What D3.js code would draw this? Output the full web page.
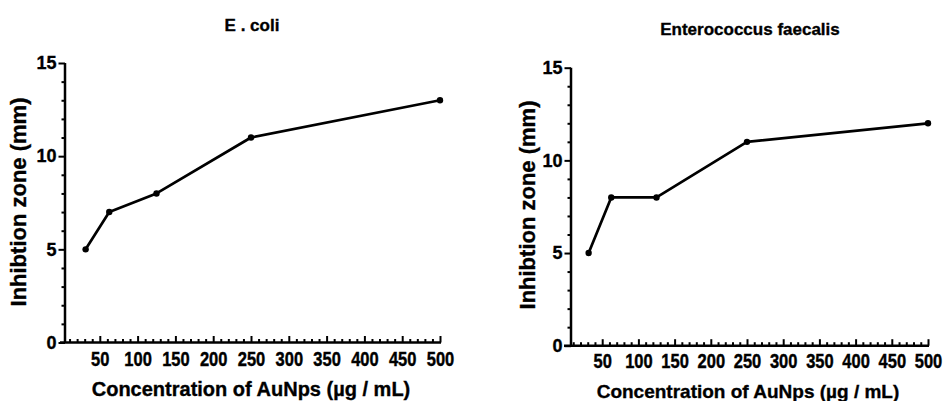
<!DOCTYPE html>
<html>
<head>
<meta charset="utf-8">
<script src="https://cdn.jsdelivr.net/npm/d3@7"></script>
<style>
  html, body { margin: 0; padding: 0; background: #ffffff; }
  svg { display: block; }
  text { font-family: "Liberation Sans", Arial, sans-serif; font-weight: bold; fill: #000; stroke: #000; stroke-width: 0.35px; }
</style>
</head>
<body>
<script>
// ---- data ----
const concentrations = [31.25, 62.5, 125, 250, 500];
const ecoliZone = [5, 7, 8, 11, 13];
const faecalisZone = [5, 8, 8, 11, 12];
const xMajorTicks = [50, 100, 150, 200, 250, 300, 350, 400, 450, 500];
const yMajorTicks = [0, 5, 10, 15];
const panelTitles = ["E . coli", "Enterococcus faecalis"];
const xAxisTitle = "Concentration of AuNps (\u00b5g / mL)";
const yAxisTitle = "Inhibtion zone (mm)";

const W = 944, H = 401;
const svg = d3.select("body").append("svg").attr("width", W).attr("height", H);

const xMinorTicks = d3.range(10, 501, 10).filter(v => v % 50 !== 0);
const yMinorTicks = d3.range(0, 16, 1).filter(v => v % 5 !== 0);

function drawPanel(p) {
  const x = d3.scaleLinear().domain([0, 500]).range([p.x0, p.x1]);
  const y = d3.scaleLinear().domain([0, 15]).range([p.y0, p.y1]);
  const g = svg.append("g");

  // axis lines
  g.append("line").attr("x1", x(0) - 2).attr("x2", x(500) + 1)
    .attr("y1", y(0)).attr("y2", y(0)).attr("stroke", "#000").attr("stroke-width", 2.5);
  g.append("line").attr("x1", p.yAxisX).attr("x2", p.yAxisX)
    .attr("y1", y(0)).attr("y2", y(15)).attr("stroke", "#000").attr("stroke-width", 2.5);

  // x axis minor ticks (upward)
  g.append("g").attr("transform", `translate(0,${y(0)})`)
    .call(d3.axisBottom(x).tickValues(xMinorTicks).tickSizeInner(-3.5).tickSizeOuter(0).tickFormat(""))
    .call(s => s.select(".domain").remove())
    .call(s => s.selectAll("line").attr("stroke-width", 2));
  // x axis major ticks with labels
  g.append("g").attr("transform", `translate(0,${y(0)})`)
    .call(d3.axisBottom(x).tickValues(xMajorTicks).tickSizeInner(-6.5).tickSizeOuter(0))
    .call(s => s.select(".domain").remove())
    .call(s => s.selectAll("line").attr("stroke-width", 2))
    .call(s => s.selectAll("text")
      .attr("y", null).attr("dy", null)
      .attr("transform", `translate(0,${p.xTickBase}) scale(1,1.22)`)
      .style("font-size", "16.5px"));

  // y axis minor ticks
  g.append("g").attr("transform", `translate(${p.yAxisX},0)`)
    .call(d3.axisLeft(y).tickValues(yMinorTicks).tickSizeInner(3.5).tickSizeOuter(0).tickFormat(""))
    .call(s => s.select(".domain").remove())
    .call(s => s.selectAll("line").attr("stroke-width", 2));
  // y axis major ticks
  g.append("g").attr("transform", `translate(${p.yAxisX},0)`)
    .call(d3.axisLeft(y).tickValues(yMajorTicks).tickSizeInner(6.5).tickSizeOuter(0).tickPadding(2))
    .call(s => s.select(".domain").remove())
    .call(s => s.selectAll("line").attr("stroke-width", 2))
    .call(s => s.selectAll("text").style("font-size", "18px"));

  // line
  const pts = concentrations.map((c, i) => [c, p.values[i]]);
  g.append("path").datum(pts)
    .attr("fill", "none").attr("stroke", "#000").attr("stroke-width", 2.7)
    .attr("stroke-linejoin", "round")
    .attr("d", d3.line().x(d => x(d[0])).y(d => y(d[1])));
  g.selectAll("circle.pt").data(pts).enter().append("circle")
    .attr("cx", d => x(d[0])).attr("cy", d => y(d[1])).attr("r", 3.2).attr("fill", "#000");

  // titles
  g.append("text").attr("x", p.titleX).attr("y", p.titleY).attr("text-anchor", "middle")
    .style("font-size", "17px").text(p.title);
  g.append("text").attr("x", p.xLabelX).attr("y", p.xLabelY).attr("text-anchor", "middle")
    .style("font-size", p.xLabelSize + "px").text(xAxisTitle);
  g.append("text").attr("transform", `translate(${p.yLabelX},${p.yLabelY}) rotate(-90)`)
    .attr("text-anchor", "middle").style("font-size", "22px").text(yAxisTitle);
}

drawPanel({
  x0: 62, x1: 440, y0: 342.5, y1: 63, yAxisX: 65, xTickBase: 23.5,
  values: ecoliZone, title: panelTitles[0],
  titleX: 252, titleY: 31, xLabelX: 251, xLabelY: 396, xLabelSize: 20,
  yLabelX: 26, yLabelY: 202
});
drawPanel({
  x0: 566, x1: 928, y0: 345.7, y1: 67.7, yAxisX: 571, xTickBase: 22.5,
  values: faecalisZone, title: panelTitles[1],
  titleX: 750, titleY: 35, xLabelX: 748, xLabelY: 398, xLabelSize: 19,
  yLabelX: 535, yLabelY: 205
});
</script>
</body>
</html>
